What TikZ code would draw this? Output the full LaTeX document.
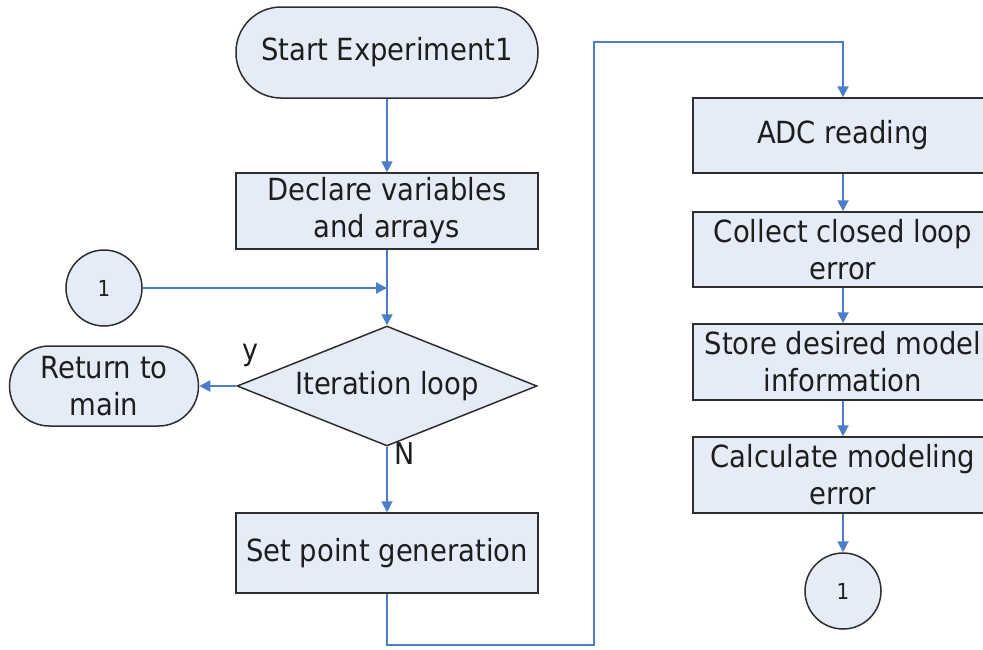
\documentclass[tikz,border=0pt]{standalone}
\usepackage{fontspec}
\setmainfont{DejaVu Sans Condensed}
\usetikzlibrary{arrows.meta,shapes.geometric}
\definecolor{boxfill}{HTML}{E6ECF7}
\definecolor{linkblue}{HTML}{4A7EC8}
\definecolor{edgegray}{HTML}{2E2E2E}
\definecolor{txt}{HTML}{1E1E1E}
\begin{document}
\begin{tikzpicture}[x=1pt,y=-1pt,
  base/.style={draw=edgegray,line width=1.5pt,fill=boxfill,inner sep=0pt,align=center,
    text=txt,font=\fontsize{30.5}{37}\selectfont},
  procbox/.style={base,rectangle,minimum width=302pt},
  termbox/.style={base,rectangle,rounded corners=#1},
  conn/.style={base,circle,minimum size=76pt,font=\fontsize{22}{24}\selectfont},
  decide/.style={base,diamond,aspect=2.5,minimum width=300pt,minimum height=120pt},
  link/.style={draw=linkblue,line width=2pt,-{Triangle[width=11pt,length=11pt]}},
  lbl/.style={text=txt,font=\fontsize{30}{32}\selectfont,inner sep=0pt}
]
\useasboundingbox (0,0) rectangle (983,649);
\node[termbox=45pt,minimum width=302pt,minimum height=91pt] (start) at (387,52.5) {Start Experiment1};
\node[procbox,minimum height=76pt] (declare) at (387,211) {Declare variables\\and arrays};
\node[conn] (c1) at (104,288) {1};
\node[decide] (loop) at (387,386) {Iteration loop};
\node[termbox=40pt,minimum width=189pt,minimum height=80pt] (ret) at (104,386) {Return to\\main};
\node[procbox,minimum height=80pt] (setpt) at (387,553) {Set point generation};
\node[procbox,minimum width=300pt,minimum height=75pt] (adc) at (843,135.5) {ADC reading};
\node[procbox,minimum width=300pt,minimum height=75pt] (collect) at (843,249.5) {Collect closed loop\\error};
\node[procbox,minimum width=300pt,minimum height=76pt] (store) at (843,362) {Store desired model\\information};
\node[procbox,minimum width=300pt,minimum height=76pt] (calc) at (843,475) {Calculate modeling\\error};
\node[conn] (c2) at (843,591) {1};
\coordinate (join) at (387,288);
\coordinate (bl) at (387,645);
\coordinate (br) at (594,645);
\coordinate (tl) at (594,42);
\coordinate (tr) at (843,42);
\draw[link] (start) -- (declare);
\draw[link] (declare) -- (loop.north);
\draw[link] (c1) -- (join);
\draw[link] (loop.west) -- (ret.east);
\draw[link] (loop.south) -- (setpt.north);
\draw[link] (setpt.south) -- (bl) -- (br) -- (tl) -- (tr) -- (adc.north);
\draw[link] (adc) -- (collect);
\draw[link] (collect) -- (store);
\draw[link] (store) -- (calc);
\draw[link] (calc) -- (c2);
\node[lbl] (ylbl) at (250,355) {y};
\node[lbl] (nlbl) at (405,454) {N};
\end{tikzpicture}
\end{document}
